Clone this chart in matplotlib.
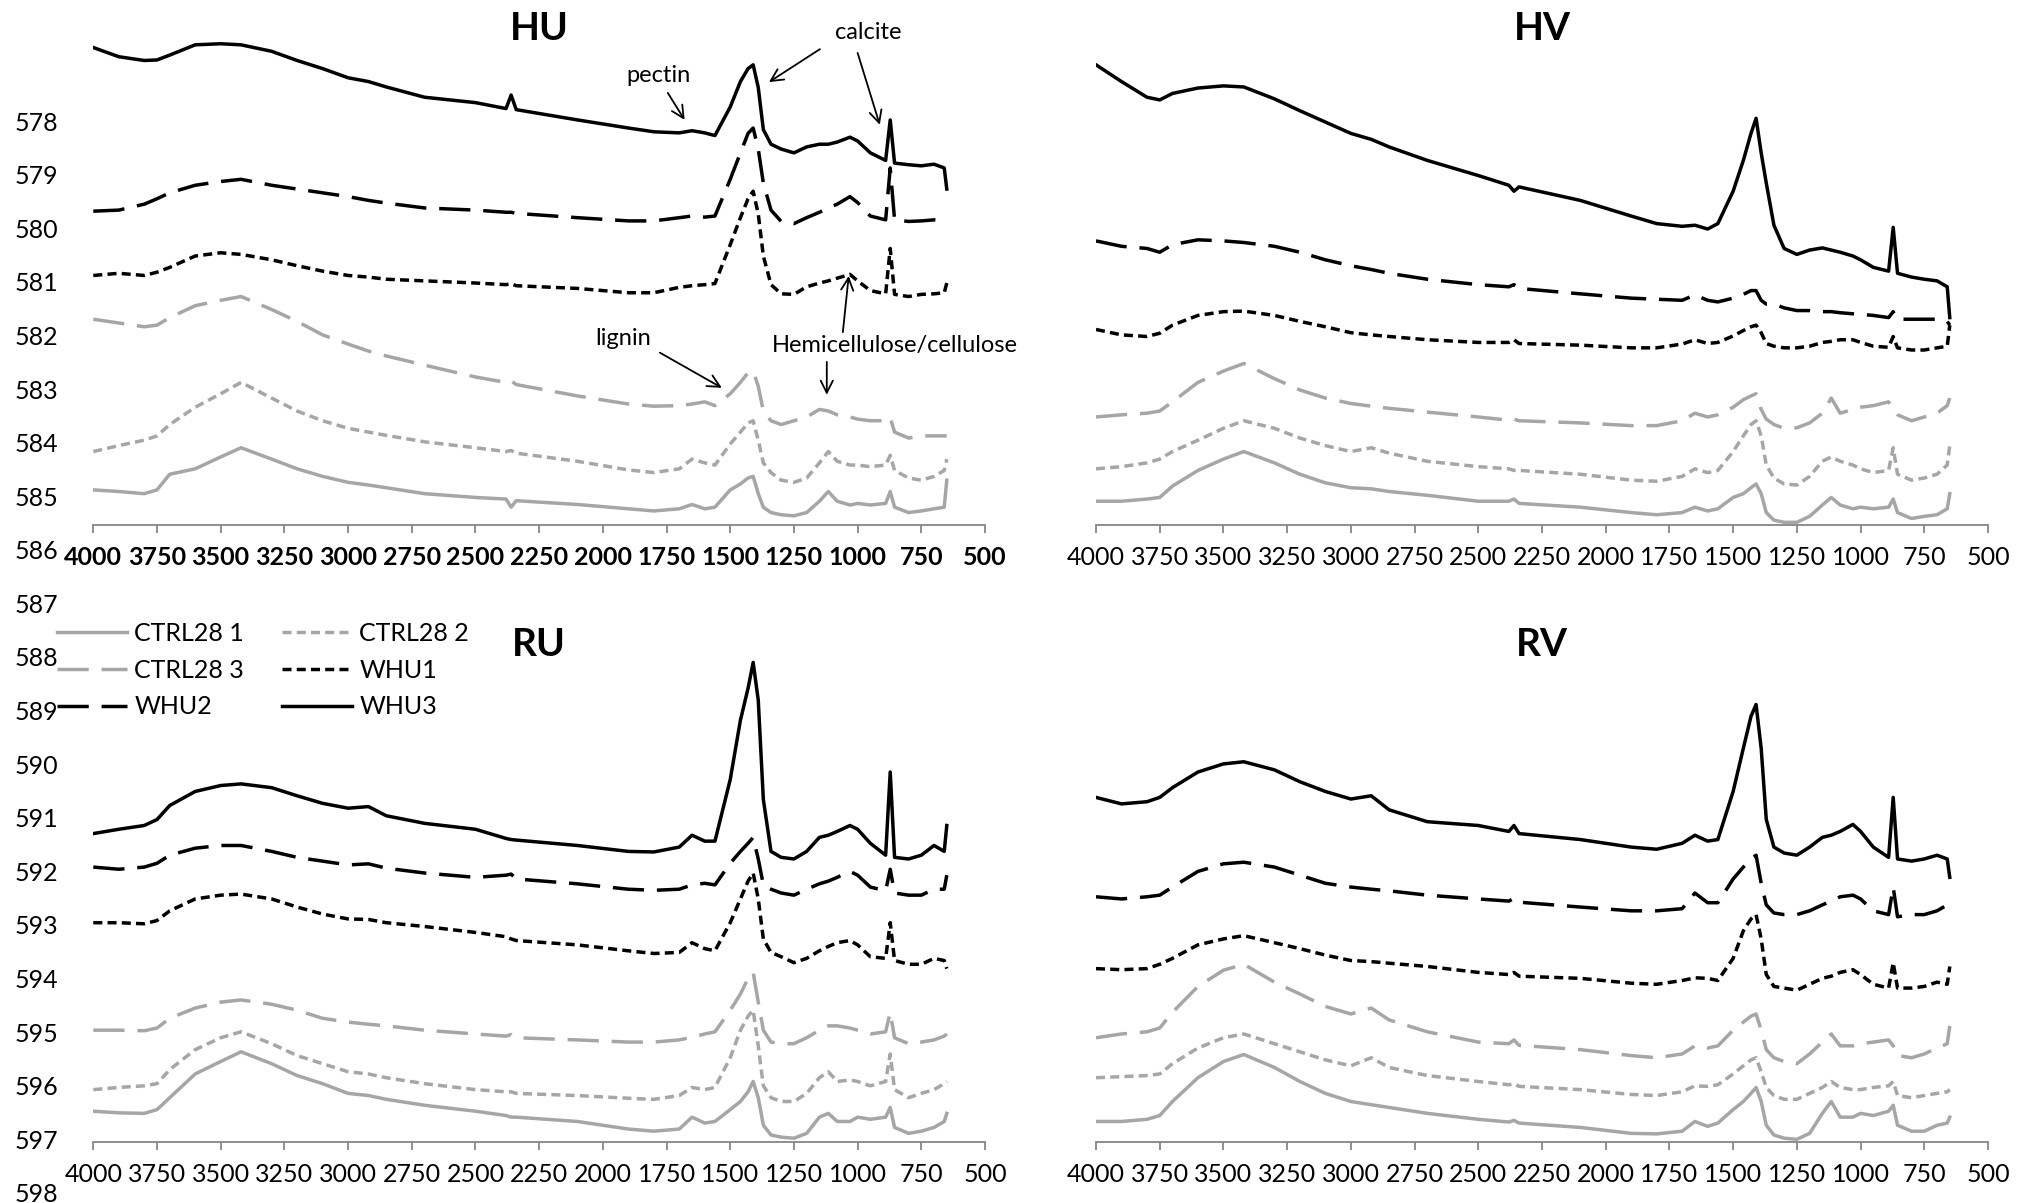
import matplotlib
matplotlib.use("Agg")
import matplotlib.pyplot as plt

plt.rcParams['font.family'] = ['Lato', 'DejaVu Sans']

# wavenumber grid (cm-1) shared by every spectrum
WN = [4000, 3900, 3800, 3750, 3700, 3600, 3500, 3420, 3300, 3200,
      3100, 3000, 2920, 2850, 2700, 2500, 2380, 2360, 2340, 2100,
      1900, 1800, 1700, 1650, 1600, 1560, 1500, 1460, 1430, 1410,
      1390, 1370, 1340, 1300, 1250, 1200, 1150, 1115, 1080, 1030,
      1000, 950, 890, 872, 855, 800, 750, 700, 660, 650]

# ---- HU ----
hu_c1 = [0.65, 0.62, 0.58, 0.65, 0.94, 1.04, 1.26, 1.43, 1.22, 1.04,
         0.90, 0.79, 0.74, 0.69, 0.58, 0.51, 0.48, 0.33, 0.45, 0.38,
         0.30, 0.26, 0.30, 0.38, 0.30, 0.33, 0.65, 0.76, 0.87, 0.90,
         0.58, 0.33, 0.23, 0.19, 0.17, 0.23, 0.44, 0.62, 0.44, 0.37,
         0.40, 0.37, 0.40, 0.62, 0.33, 0.23, 0.26, 0.30, 0.33, 0.83]
hu_c2 = [1.36, 1.47, 1.57, 1.65, 1.86, 2.18, 2.43, 2.64, 2.35, 2.11,
         1.93, 1.79, 1.72, 1.66, 1.54, 1.43, 1.36, 1.38, 1.33, 1.18,
         1.02, 0.97, 1.04, 1.22, 1.15, 1.11, 1.50, 1.72, 1.89, 1.93,
         1.57, 1.15, 0.97, 0.83, 0.79, 0.87, 1.15, 1.36, 1.18, 1.11,
         1.11, 1.08, 1.11, 1.29, 1.01, 0.87, 0.83, 0.90, 1.01, 1.22]
hu_c3 = [3.81, 3.74, 3.67, 3.70, 3.84, 4.06, 4.16, 4.23, 3.99, 3.77,
         3.52, 3.35, 3.22, 3.13, 2.96, 2.74, 2.64, 2.67, 2.60, 2.39,
         2.24, 2.20, 2.21, 2.24, 2.28, 2.21, 2.43, 2.64, 2.82, 2.85,
         2.57, 2.11, 1.93, 1.86, 1.93, 2.00, 2.14, 2.11, 2.04, 2.00,
         1.96, 1.93, 1.93, 1.99, 1.72, 1.61, 1.65, 1.65, 1.65, 1.65]
hu_w1 = [4.62, 4.66, 4.62, 4.68, 4.77, 4.98, 5.04, 5.01, 4.91, 4.80,
         4.70, 4.62, 4.59, 4.55, 4.52, 4.48, 4.45, 4.47, 4.43, 4.38,
         4.30, 4.30, 4.40, 4.43, 4.45, 4.47, 5.19, 5.69, 6.04, 6.18,
         5.76, 4.98, 4.45, 4.28, 4.27, 4.41, 4.48, 4.52, 4.57, 4.64,
         4.52, 4.34, 4.28, 5.12, 4.27, 4.23, 4.27, 4.28, 4.30, 4.48]
hu_w2 = [5.81, 5.83, 5.94, 6.04, 6.15, 6.29, 6.36, 6.40, 6.29, 6.22,
         6.15, 6.08, 6.01, 5.96, 5.87, 5.83, 5.79, 5.79, 5.77, 5.69,
         5.63, 5.63, 5.69, 5.72, 5.70, 5.72, 6.40, 6.89, 7.25, 7.35,
         6.96, 6.33, 5.83, 5.62, 5.58, 5.69, 5.79, 5.87, 5.94, 6.08,
         5.97, 5.72, 5.65, 6.61, 5.65, 5.62, 5.63, 5.65, 5.63, 5.62]
hu_w3 = [8.84, 8.67, 8.60, 8.61, 8.70, 8.89, 8.91, 8.89, 8.77, 8.60,
         8.45, 8.28, 8.21, 8.11, 7.92, 7.82, 7.71, 7.96, 7.69, 7.50,
         7.35, 7.28, 7.26, 7.30, 7.26, 7.21, 7.74, 8.21, 8.45, 8.52,
         8.10, 7.32, 7.05, 6.96, 6.89, 7.00, 7.05, 7.05, 7.09, 7.18,
         7.11, 6.89, 6.75, 7.50, 6.70, 6.67, 6.65, 6.68, 6.61, 6.22]

# ---- HV ----
hv_c1 = [0.44, 0.44, 0.48, 0.51, 0.72, 1.01, 1.22, 1.36, 1.15, 0.94,
         0.78, 0.69, 0.67, 0.62, 0.55, 0.44, 0.44, 0.48, 0.40, 0.33,
         0.23, 0.19, 0.23, 0.33, 0.26, 0.30, 0.51, 0.58, 0.69, 0.76,
         0.58, 0.23, 0.09, 0.05, 0.05, 0.16, 0.37, 0.51, 0.37, 0.30,
         0.33, 0.30, 0.33, 0.48, 0.23, 0.12, 0.16, 0.19, 0.30, 0.58]
hv_c2 = [1.04, 1.08, 1.15, 1.22, 1.36, 1.57, 1.79, 1.93, 1.79, 1.61,
         1.47, 1.36, 1.43, 1.33, 1.18, 1.08, 1.04, 1.01, 1.01, 0.94,
         0.83, 0.81, 0.90, 1.04, 0.97, 1.01, 1.36, 1.65, 1.86, 1.93,
         1.65, 1.11, 0.87, 0.76, 0.74, 0.90, 1.18, 1.26, 1.18, 1.11,
         1.04, 0.97, 1.01, 1.43, 0.94, 0.83, 0.87, 0.94, 1.11, 1.47]
hv_c3 = [2.00, 2.04, 2.07, 2.11, 2.28, 2.64, 2.85, 2.99, 2.71, 2.50,
         2.35, 2.25, 2.20, 2.16, 2.09, 2.00, 1.94, 1.96, 1.93, 1.89,
         1.84, 1.84, 1.93, 2.07, 2.00, 2.04, 2.18, 2.32, 2.39, 2.43,
         2.14, 1.96, 1.86, 1.79, 1.80, 1.89, 2.07, 2.35, 2.07, 2.14,
         2.18, 2.21, 2.28, 2.14, 2.04, 1.93, 2.00, 2.07, 2.21, 2.35]
hv_w1 = [3.62, 3.52, 3.49, 3.55, 3.70, 3.88, 3.95, 3.96, 3.88, 3.77,
         3.67, 3.56, 3.52, 3.49, 3.43, 3.38, 3.38, 3.43, 3.36, 3.33,
         3.28, 3.28, 3.35, 3.43, 3.36, 3.38, 3.50, 3.60, 3.67, 3.70,
         3.56, 3.36, 3.31, 3.28, 3.28, 3.31, 3.38, 3.40, 3.43, 3.43,
         3.38, 3.31, 3.29, 3.49, 3.28, 3.24, 3.24, 3.28, 3.31, 3.70]
hv_w2 = [5.26, 5.16, 5.12, 5.05, 5.19, 5.28, 5.26, 5.23, 5.16, 5.05,
         4.91, 4.80, 4.73, 4.66, 4.55, 4.45, 4.41, 4.45, 4.38, 4.28,
         4.20, 4.18, 4.16, 4.26, 4.16, 4.13, 4.20, 4.27, 4.34, 4.34,
         4.16, 4.09, 4.09, 4.02, 3.97, 3.97, 3.95, 3.95, 3.93, 3.91,
         3.90, 3.88, 3.84, 3.95, 3.81, 3.81, 3.81, 3.81, 3.77, 3.70]
hv_w3 = [8.52, 8.21, 7.92, 7.87, 7.99, 8.09, 8.13, 8.11, 7.89, 7.67,
         7.46, 7.25, 7.14, 7.00, 6.75, 6.47, 6.29, 6.18, 6.26, 6.01,
         5.72, 5.58, 5.53, 5.55, 5.48, 5.58, 6.18, 6.75, 7.25, 7.53,
         6.89, 6.33, 5.55, 5.12, 5.01, 5.09, 5.13, 5.09, 5.05, 4.98,
         4.91, 4.77, 4.70, 5.51, 4.66, 4.59, 4.55, 4.52, 4.41, 3.84]

# ---- RU ----
ru_c1 = [0.57, 0.54, 0.53, 0.60, 0.82, 1.26, 1.49, 1.67, 1.45, 1.23,
         1.08, 0.90, 0.86, 0.79, 0.68, 0.57, 0.49, 0.46, 0.46, 0.38,
         0.24, 0.20, 0.24, 0.46, 0.35, 0.38, 0.60, 0.75, 0.93, 1.12,
         0.82, 0.31, 0.13, 0.09, 0.07, 0.16, 0.46, 0.53, 0.38, 0.38,
         0.46, 0.42, 0.46, 0.64, 0.27, 0.16, 0.20, 0.27, 0.38, 0.53]
ru_c2 = [0.97, 1.01, 1.04, 1.08, 1.34, 1.71, 1.93, 2.04, 1.82, 1.60,
         1.45, 1.30, 1.26, 1.19, 1.08, 0.97, 0.93, 0.93, 0.90, 0.86,
         0.81, 0.79, 0.86, 1.01, 0.97, 1.01, 1.56, 2.07, 2.33, 2.44,
         1.78, 1.04, 0.82, 0.75, 0.75, 0.90, 1.19, 1.30, 1.12, 1.15,
         1.12, 1.04, 1.12, 1.63, 0.97, 0.82, 0.90, 0.97, 1.08, 1.12]
ru_c3 = [2.07, 2.07, 2.06, 2.11, 2.29, 2.48, 2.59, 2.63, 2.55, 2.44,
         2.29, 2.22, 2.18, 2.15, 2.07, 2.00, 1.96, 1.99, 1.93, 1.89,
         1.85, 1.85, 1.89, 1.94, 2.00, 2.04, 2.44, 2.74, 3.03, 3.14,
         2.59, 2.07, 1.85, 1.82, 1.82, 1.93, 2.07, 2.15, 2.15, 2.11,
         2.07, 2.00, 2.04, 2.40, 1.93, 1.82, 1.85, 1.89, 1.96, 2.00]
ru_w1 = [4.06, 4.06, 4.04, 4.10, 4.28, 4.50, 4.57, 4.59, 4.50, 4.35,
         4.22, 4.13, 4.12, 4.06, 3.99, 3.88, 3.80, 3.76, 3.73, 3.65,
         3.54, 3.49, 3.51, 3.69, 3.58, 3.54, 4.06, 4.50, 4.83, 4.98,
         4.50, 3.76, 3.51, 3.43, 3.32, 3.40, 3.54, 3.62, 3.69, 3.73,
         3.65, 3.43, 3.40, 4.06, 3.36, 3.29, 3.29, 3.40, 3.36, 3.21]
ru_w2 = [5.09, 5.05, 5.09, 5.16, 5.31, 5.44, 5.49, 5.49, 5.38, 5.27,
         5.20, 5.13, 5.15, 5.07, 4.98, 4.90, 4.94, 4.96, 4.87, 4.78,
         4.68, 4.66, 4.68, 4.76, 4.79, 4.76, 5.16, 5.38, 5.53, 5.64,
         5.24, 4.76, 4.68, 4.61, 4.57, 4.68, 4.78, 4.83, 4.90, 5.01,
         4.94, 4.72, 4.65, 5.05, 4.61, 4.57, 4.57, 4.68, 4.68, 4.94]
ru_w3 = [5.71, 5.79, 5.86, 5.97, 6.23, 6.49, 6.60, 6.63, 6.56, 6.41,
         6.27, 6.18, 6.21, 6.04, 5.90, 5.79, 5.62, 5.60, 5.59, 5.49,
         5.38, 5.37, 5.46, 5.68, 5.57, 5.57, 6.71, 7.81, 8.40, 8.88,
         8.18, 6.34, 5.38, 5.27, 5.24, 5.38, 5.64, 5.68, 5.75, 5.86,
         5.79, 5.53, 5.31, 6.85, 5.27, 5.24, 5.31, 5.49, 5.38, 5.86]

# ---- RV ----
rv_c1 = [0.38, 0.38, 0.42, 0.49, 0.75, 1.19, 1.49, 1.62, 1.38, 1.12,
         0.90, 0.75, 0.69, 0.64, 0.53, 0.42, 0.37, 0.40, 0.35, 0.27,
         0.16, 0.15, 0.20, 0.38, 0.29, 0.35, 0.60, 0.75, 0.90, 1.01,
         0.75, 0.31, 0.13, 0.07, 0.05, 0.16, 0.53, 0.75, 0.46, 0.46,
         0.53, 0.49, 0.57, 0.68, 0.31, 0.20, 0.20, 0.31, 0.35, 0.46]
rv_c2 = [1.19, 1.21, 1.23, 1.26, 1.45, 1.74, 1.93, 2.00, 1.82, 1.67,
         1.52, 1.41, 1.56, 1.38, 1.23, 1.12, 1.06, 1.08, 1.03, 0.97,
         0.88, 0.86, 0.93, 1.04, 1.03, 1.06, 1.26, 1.41, 1.52, 1.56,
         1.30, 1.01, 0.86, 0.79, 0.79, 0.90, 1.01, 1.12, 1.01, 0.97,
         0.97, 1.01, 1.04, 1.12, 0.86, 0.82, 0.86, 0.90, 0.93, 0.97]
rv_c3 = [1.93, 2.00, 2.04, 2.11, 2.40, 2.88, 3.18, 3.29, 2.96, 2.74,
         2.51, 2.37, 2.48, 2.26, 2.04, 1.85, 1.82, 1.89, 1.79, 1.71,
         1.60, 1.56, 1.63, 1.78, 1.74, 1.78, 2.07, 2.22, 2.33, 2.37,
         2.07, 1.71, 1.56, 1.49, 1.45, 1.63, 1.85, 2.00, 1.78, 1.78,
         1.82, 1.85, 1.89, 1.78, 1.60, 1.56, 1.63, 1.74, 1.82, 2.15]
rv_w1 = [3.21, 3.19, 3.21, 3.29, 3.40, 3.65, 3.76, 3.82, 3.69, 3.58,
         3.46, 3.36, 3.34, 3.31, 3.25, 3.14, 3.10, 3.14, 3.07, 3.03,
         2.94, 2.92, 2.99, 3.04, 3.03, 2.99, 3.40, 3.91, 4.13, 4.21,
         3.76, 3.10, 2.88, 2.85, 2.81, 2.92, 3.03, 3.07, 3.14, 3.19,
         3.10, 2.92, 2.85, 3.32, 2.85, 2.85, 2.88, 2.96, 2.92, 3.25]
rv_w2 = [4.54, 4.50, 4.54, 4.57, 4.72, 5.01, 5.15, 5.18, 5.09, 4.94,
         4.79, 4.72, 4.68, 4.65, 4.57, 4.50, 4.46, 4.51, 4.44, 4.35,
         4.28, 4.28, 4.32, 4.61, 4.43, 4.43, 4.87, 5.09, 5.24, 5.31,
         4.79, 4.39, 4.24, 4.21, 4.21, 4.28, 4.39, 4.46, 4.54, 4.57,
         4.50, 4.28, 4.21, 4.72, 4.17, 4.21, 4.21, 4.28, 4.39, 4.50]
rv_w3 = [6.38, 6.26, 6.30, 6.38, 6.56, 6.85, 7.00, 7.04, 6.89, 6.67,
         6.49, 6.35, 6.41, 6.15, 5.93, 5.86, 5.75, 5.86, 5.71, 5.60,
         5.46, 5.42, 5.53, 5.68, 5.57, 5.60, 6.49, 7.29, 7.88, 8.10,
         7.29, 5.97, 5.46, 5.35, 5.31, 5.46, 5.64, 5.68, 5.75, 5.88,
         5.75, 5.46, 5.27, 6.38, 5.24, 5.20, 5.24, 5.31, 5.24, 4.90]

LABELS = ['CTRL28 1', 'CTRL28 2', 'CTRL28 3', 'WHU1', 'WHU2', 'WHU3']
XTICKS = list(range(4000, 499, -250))
LEFT_TICKS = list(range(578, 599))

GREY = '#a6a6a6'
LONG = (0, (9, 3.7))
SHORT = (0, (2.6, 1.5))
STYLES = [(GREY, '-'), (GREY, SHORT), (GREY, LONG),
          ('black', SHORT), ('black', LONG), ('black', '-')]
AXIS_GREY = '#868686'

W, H = 2033, 1203
fig = plt.figure(figsize=(W / 100, H / 100), dpi=100)
fig.patch.set_facecolor('white')


def box(x0, x1, ybot, ytop):
    return [x0 / W, 1 - ybot / H, (x1 - x0) / W, (ybot - ytop) / H]


# stray value axis running down the left edge
bg = fig.add_axes([62 / W, 0, 0.4, 1])
bg.set_ylim(598.19, 575.74)
bg.set_yticks(LEFT_TICKS)
bg.set_xticks([])
bg.tick_params(axis='y', length=0, pad=3, labelsize=18)
for s in bg.spines.values():
    s.set_visible(False)
bg.patch.set_visible(False)

panels = [
    ('HU', [hu_c1, hu_c2, hu_c3, hu_w1, hu_w2, hu_w3], 93.3, 985, 525, True),
    ('HV', [hv_c1, hv_c2, hv_c3, hv_w1, hv_w2, hv_w3], 1096, 1988, 525, False),
    ('RU', [ru_c1, ru_c2, ru_c3, ru_w1, ru_w2, ru_w3], 93.3, 985, 1142, False),
    ('RV', [rv_c1, rv_c2, rv_c3, rv_w1, rv_w2, rv_w3], 1096, 1988, 1142, False),
]

axes = {}
for name, series, x0, x1, yb, bold in panels:
    ax = fig.add_axes(box(x0, x1, yb, yb - 525))
    ax.patch.set_visible(False)
    for label, (color, ls), vals in zip(LABELS, STYLES, series):
        ax.plot(WN, vals, color=color, linestyle=ls, lw=2.5, label=label)
    ax.set_xlim(4000, 500)
    ax.set_ylim(0, 9.72)
    ax.set_xticks(XTICKS)
    ax.set_yticks([])
    for side in ['left', 'top', 'right']:
        ax.spines[side].set_visible(False)
    ax.spines['bottom'].set_color(AXIS_GREY)
    ax.spines['bottom'].set_linewidth(1.3)
    ax.tick_params(axis='x', direction='out', length=6, width=1.3,
                   color=AXIS_GREY, pad=9, labelsize=18)
    if bold:
        for t in ax.get_xticklabels():
            t.set_fontweight('bold')
    fig.text((x0 + x1) / 2 / W, 1 - (yb - 497) / H, name, ha='center',
             va='center', fontsize=28, fontweight='bold')
    axes[name] = ax

# band annotations on the HU panel
hu = axes['HU']
arrow = dict(arrowstyle='->', lw=1.3, color='black', shrinkA=0, shrinkB=0,
             mutation_scale=22)
hu.text(1780, 8.33, 'pectin', fontsize=17, ha='center', va='center')
hu.annotate('', xy=(1679, 7.5), xytext=(1745, 8.0), arrowprops=arrow)
hu.text(960, 9.11, 'calcite', fontsize=17, ha='center', va='center')
hu.annotate('', xy=(1348, 8.2), xytext=(1148, 8.81), arrowprops=arrow)
hu.annotate('', xy=(913, 7.41), xytext=(1000, 8.74), arrowprops=arrow)
hu.text(1921, 3.46, 'lignin', fontsize=17, ha='center', va='center')
hu.annotate('', xy=(1533, 2.54), xytext=(1776, 3.19), arrowprops=arrow)
hu.text(854, 3.33, 'Hemicellulose/cellulose', fontsize=17, ha='center',
        va='center', clip_on=False)
hu.annotate('', xy=(1121, 2.41), xytext=(1121, 3.02), arrowprops=arrow)
hu.annotate('', xy=(1035, 4.61), xytext=(1058, 3.57), arrowprops=arrow)

# legend, filled row by row
handles, labels = axes['RU'].get_legend_handles_labels()
order = [0, 2, 4, 1, 3, 5]
fig.legend([handles[i] for i in order], [labels[i] for i in order],
           ncol=2, loc='upper left', bbox_to_anchor=(57 / W, 1 - 622 / H),
           frameon=False, fontsize=18, handlelength=2.8, handletextpad=0.3,
           columnspacing=1.5, labelspacing=0.55, borderpad=0,
           borderaxespad=0)

fig.savefig('out.png', dpi=100)
plt.close(fig)
